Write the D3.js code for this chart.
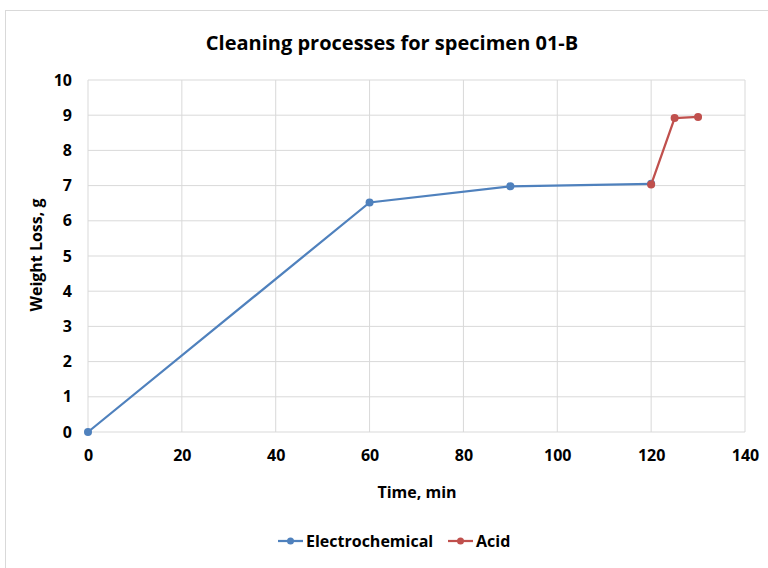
<!DOCTYPE html>
<html><head><meta charset="utf-8">
<script src="https://cdn.jsdelivr.net/npm/d3@7"></script>
<style>
body{margin:0;background:#fff;}
text{font-family:"Liberation Sans Narrow","Open Sans",Arial,sans-serif;font-weight:bold;fill:#000;}
</style></head><body>
<svg id="c" width="768" height="568"></svg>
<script>
const title = "Cleaning processes for specimen 01-B";
const xLabel = "Time, min";
const yLabel = "Weight Loss, g";
const seriesNames = ["Electrochemical", "Acid"];
const seriesColors = ["#4f81bd", "#c0504d"];
const electroTime = [0, 60, 90, 120];
const electroLoss = [0, 6.52, 6.98, 7.05];
const acidTime = [120, 125, 130];
const acidLoss = [7.03, 8.92, 8.95];
const xTicks = [0, 20, 40, 60, 80, 100, 120, 140];
const yTicks = [0, 1, 2, 3, 4, 5, 6, 7, 8, 9, 10];

const svg = d3.select("#c");
svg.append("rect").attr("x",5.5).attr("y",10.5).attr("width",770).attr("height",570)
  .attr("fill","#fff").attr("stroke","#d9d9d9");

const x = d3.scaleLinear().domain([0,140]).range([88,745]);
const y = d3.scaleLinear().domain([0,10]).range([432,80]);

// gridlines
svg.append("g").selectAll("line.v").data(xTicks).join("line")
  .attr("x1",d=>x(d)).attr("x2",d=>x(d)).attr("y1",y(0)).attr("y2",y(10))
  .attr("stroke","#d9d9d9").attr("stroke-width",1);
svg.append("g").selectAll("line.h").data(yTicks).join("line")
  .attr("x1",x(0)).attr("x2",x(140)).attr("y1",d=>y(d)).attr("y2",d=>y(d))
  .attr("stroke","#d9d9d9").attr("stroke-width",1);

// axes (labels only)
const xa = svg.append("g").attr("transform",`translate(0,${y(0)})`)
  .call(d3.axisBottom(x).tickValues(xTicks).tickSize(0).tickPadding(18));
xa.select(".domain").remove();
xa.selectAll("text").attr("font-size",16).style("font-family",null);
const ya = svg.append("g").attr("transform",`translate(${x(0)},0)`)
  .call(d3.axisLeft(y).tickValues(yTicks).tickSize(0).tickPadding(16));
ya.select(".domain").remove();
ya.selectAll("text").attr("font-size",16).style("font-family",null);
svg.selectAll(".tick text").attr("font-family",null).attr("fill","#000");

svg.append("text").attr("x",392).attr("y",50).attr("text-anchor","middle")
  .attr("font-size",20).text(title);
svg.append("text").attr("x",417).attr("y",498).attr("text-anchor","middle")
  .attr("font-size",16).text(xLabel);
svg.append("text").attr("transform","translate(42,255) rotate(-90)").attr("text-anchor","middle")
  .attr("font-size",16).text(yLabel);

const series = [
  {name:seriesNames[0], color:seriesColors[0], t:electroTime, v:electroLoss},
  {name:seriesNames[1], color:seriesColors[1], t:acidTime, v:acidLoss}
];
const line = d3.line().x(d=>x(d[0])).y(d=>y(d[1]));
series.forEach(s=>{
  const pts = s.t.map((t,i)=>[t,s.v[i]]);
  svg.append("path").attr("d",line(pts)).attr("fill","none")
    .attr("stroke",s.color).attr("stroke-width",2.25);
  svg.append("g").selectAll("circle").data(pts).join("circle")
    .attr("cx",d=>x(d[0])).attr("cy",d=>y(d[1])).attr("r",4).attr("fill",s.color);
});

// legend
const legX = [278, 448];
series.forEach((s,i)=>{
  const g = svg.append("g").attr("transform",`translate(${legX[i]},541)`);
  g.append("line").attr("x1",0).attr("x2",25).attr("stroke",s.color).attr("stroke-width",2.25);
  g.append("circle").attr("cx",12.5).attr("r",3.5).attr("fill",s.color);
  g.append("text").attr("x",28).attr("y",6).attr("font-size",16).text(s.name);
});
</script></body></html>
